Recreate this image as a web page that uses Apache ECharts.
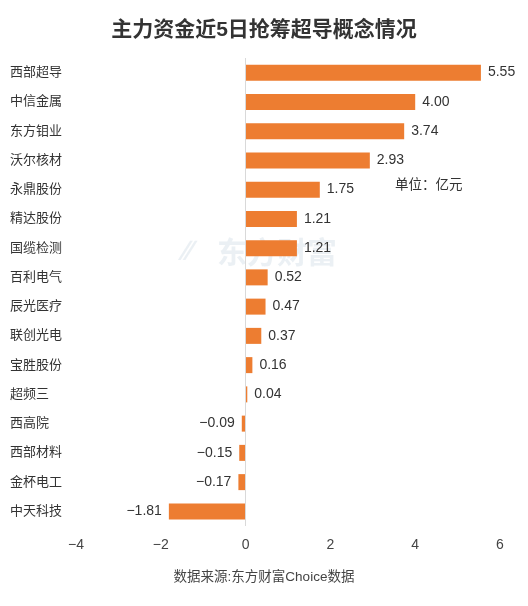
<!DOCTYPE html>
<html><head><meta charset="utf-8">
<script src="https://cdn.jsdelivr.net/npm/echarts@6/dist/echarts.min.js"></script>
<style>html,body{margin:0;padding:0;background:#fff}#c{width:528px;height:606px}</style>
</head><body><div id="c"></div>
<script>
const categories = ['西部超导','中信金属','东方钼业','沃尔核材','永鼎股份','精达股份','国缆检测','百利电气','辰光医疗','联创光电','宝胜股份','超频三','西高院','西部材料','金杯电工','中天科技'];
const values = [5.55,4.00,3.74,2.93,1.75,1.21,1.21,0.52,0.47,0.37,0.16,0.04,-0.09,-0.15,-0.17,-1.81];
const xTicks = {min:-4, max:6, interval:2};
const titleText = '主力资金近5日抢筹超导概念情况';
const unitText = '单位：亿元';
const sourceText = '数据来源:东方财富Choice数据';
const watermark = '东方财富';

const FONT = '"Liberation Sans","Noto Sans CJK SC",sans-serif';
const fmt = v => (v < 0 ? '\u2212' + Math.abs(v).toFixed(2) : v.toFixed(2));
const chart = echarts.init(document.getElementById('c'));
chart.setOption({
  animation:false,
  backgroundColor:'#fff',
  textStyle:{fontFamily:FONT},
  title:{text:titleText,left:'center',top:15,textStyle:{fontSize:21,fontWeight:'bold',color:'#333',fontFamily:FONT}},
  graphic:[
    {type:'text',left:'center',top:571,style:{text:sourceText,fontSize:13.5,fill:'#444',fontFamily:FONT}},
    {type:'text',left:395,top:179,style:{text:unitText,fontSize:13.5,fill:'#333',fontFamily:FONT}},
    {type:'text',left:217,top:240,z:-1,style:{text:watermark,fontSize:30,fontWeight:'bold',fill:'rgba(190,205,220,0.3)',fontFamily:FONT}},
    {type:'text',left:183,top:238,z:-1,style:{text:'\u2215\u2215',fontSize:28,fontWeight:'bold',fill:'rgba(190,205,220,0.3)',fontFamily:FONT}}
  ],
  grid:{left:76,right:28,top:58,bottom:80},
  xAxis:{type:'value',min:xTicks.min,max:xTicks.max,interval:xTicks.interval,
    axisLine:{show:false},axisTick:{show:false},splitLine:{show:false},
    axisLabel:{fontSize:14,color:'#444',margin:12,formatter:v=>String(v).replace('-','\u2212')}},
  yAxis:{type:'category',data:categories,inverse:true,
    axisLine:{show:false,onZero:false},axisTick:{show:false},
    axisLabel:{align:'left',margin:66,fontSize:13,color:'#333'}},
  series:[{
    type:'bar',barWidth:16,
    itemStyle:{color:'#ED7D31'},
    data:values.map(v=>({value:v,label:{position:v<0?'left':'right'}})),
    label:{show:true,fontSize:14,color:'#333',distance:7,formatter:p=>fmt(p.value)},
    markLine:{silent:true,symbol:'none',label:{show:false},
      lineStyle:{color:'#d9d9d9',type:'solid',width:1},
      data:[{xAxis:0}]}
  }]
});
</script></body></html>
